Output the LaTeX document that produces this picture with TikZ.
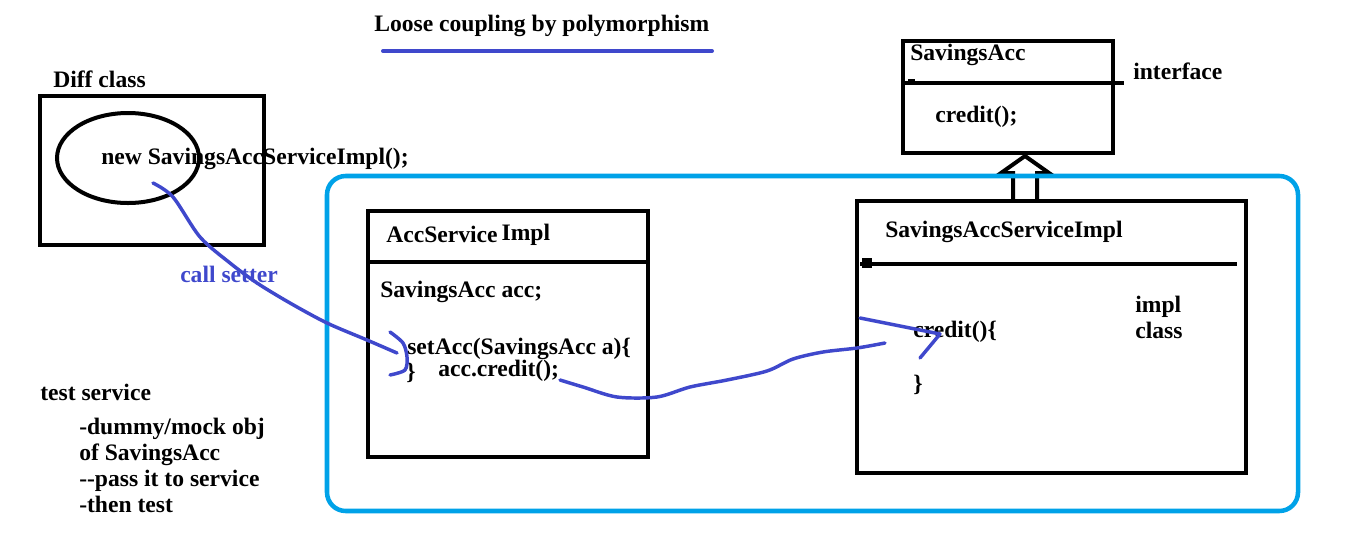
\documentclass[tikz,border=0pt]{standalone}
\usepackage{fontspec}
\setmainfont{Liberation Serif}
\usetikzlibrary{fit,shapes.geometric}
\definecolor{penblue}{HTML}{3F48CC}
\definecolor{framecyan}{HTML}{00A2E8}

\begin{document}
\begin{tikzpicture}[
  x=0.75pt, y=-0.75pt,
  font=\fontsize{17.7}{19.5}\selectfont\bfseries,
  box/.style={draw, line width=3pt, inner sep=0pt},
  rule/.style={line width=3pt},
  txt/.style={anchor=west, inner sep=0pt, align=left, yshift=-1.5pt},
  pen/.style={draw=penblue, line width=2.6pt, line cap=round, line join=round},
  frame/.style={draw=framecyan, line width=3.4pt, rounded corners=14pt, inner sep=0pt}
]
\useasboundingbox (0,0) rectangle (1349,544);
% Title
\node[txt] (title) at (374,24) {Loose coupling by polymorphism};
\draw[pen, line width=3pt] (383,51) -- (712,51);
% Diff class
\node[txt] (difflabel) at (53,77) {Diff class};
\node[box, fit={(40,96) (264,245)}] (diffbox) {};
\node[draw, ellipse, line width=3pt, minimum width=106.5pt, minimum height=67.5pt, inner sep=0pt] (ring) at (128,158) {};
\node[txt] (newimpl) at (101,157) {new SavingsAccServiceImpl();};
% Service class
\node[box, fit={(368,211) (648,457)}] (svcbox) {};
\draw[rule] (368,262) -- (648,262);
\node[txt] (svcname) at (386,233) {AccService\,\raisebox{1.5pt}{Impl}};
\node[txt] (svcfield) at (380,290) {SavingsAcc acc;};
\node[txt] (setter) at (407,347) {setAcc(SavingsAcc a)\{};
\node[txt] (setclose) at (406,371) {\}};
\node[txt] (callcredit) at (438,369) {acc.credit();};
% Interface
\node[box, fit={(903,41) (1113,153)}] (iface) {};
\draw[rule] (905,83) -- (1124,83);
\fill (908,79) rectangle (915,84);
\node[txt] (ifacename) at (910,53) {SavingsAcc};
\node[txt] (ifacetag) at (1133,69) {interface};
\node[txt] (ifacecredit) at (935,115) {credit();};
% Implementation
\node[box, fit={(857,201) (1246,473)}] (implbox) {};
\draw[rule] (860,264) -- (1237,264);
\fill (862,258) rectangle (872,268);
\node[txt] (implname) at (885,230) {SavingsAccServiceImpl};
\node[txt] (impltag) at (1135,315) {impl\\class};
\node[txt] (implcredit) at (913,330) {credit()\{};
\node[txt] (implclose) at (913,383) {\}};
% Inheritance arrow
\coordinate (inhtop) at (1025,156);
\coordinate (inhbot) at (1025,200);
\draw[rule, line join=miter] (inhbot) ++(-12,0) -- ++(0,-27) -- ++(-12,0) -- (inhtop) -- ++(24,17) -- ++(-12,0) -- ++(0,27);
% Frame
\node[frame, fit={(327,176) (1298,511)}] (frame) {};
% Test notes
\node[txt] (testhead) at (40,390) {test service};
\node[txt] (teststeps) at (79,463) {-dummy/mock obj\\of SavingsAcc\\-{}-pass it to service\\-then test};
% Pen strokes
\node[txt, text=penblue] (setterlabel) at (180,272) {call setter};
\coordinate (callfrom) at (153,183);
\coordinate (callto) at (397,353);
\draw[pen] plot[smooth, tension=0.5] coordinates {(callfrom) (173,197) (200,237) (230,263) (257,283) (290,303) (327,323) (367,340) (callto)};
\draw[pen] plot[smooth, tension=0.5] coordinates {(390,332) (403,343) (407,357) (405,370) (390,375)};
\coordinate (credfrom) at (560,380);
\coordinate (credto) at (885,343);
\draw[pen] plot[smooth, tension=0.5] coordinates {(credfrom) (583,387) (617,397) (657,397) (690,387) (727,380) (767,371) (793,359) (823,352) (857,348) (credto)};
\coordinate (hookfrom) at (860,318);
\coordinate (hookto) at (920,358);
\draw[pen] (hookfrom) -- (900,326) -- (940,334) -- (hookto);
\end{tikzpicture}
\end{document}
